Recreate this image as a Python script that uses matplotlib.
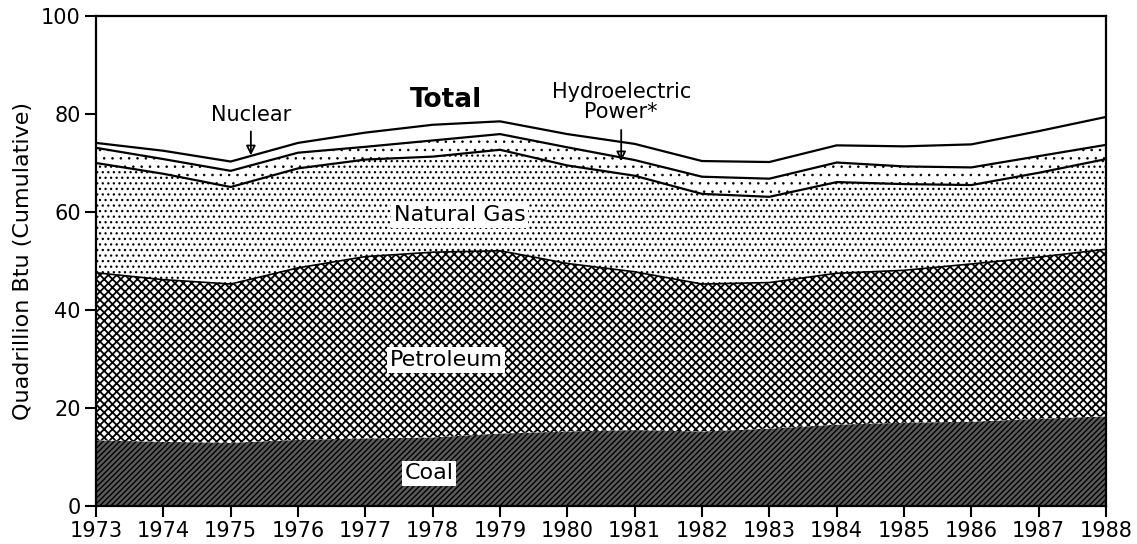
import numpy as np
import matplotlib
matplotlib.use("Agg")
import matplotlib.pyplot as plt

years = list(range(1973, 1989))
coal      = [13.4, 13.1, 12.9, 13.5, 13.8, 14.0, 14.8, 15.2, 15.5, 15.2, 15.8, 16.6, 17.0, 17.2, 17.8, 18.3]
petroleum = [34.2, 33.1, 32.4, 35.1, 37.1, 37.8, 37.3, 34.3, 32.3, 30.1, 29.8, 30.9, 31.1, 32.2, 33.0, 34.1]
nat_gas   = [22.4, 21.6, 19.8, 20.3, 19.8, 19.5, 20.6, 20.0, 19.6, 18.4, 17.5, 18.6, 17.6, 16.1, 17.2, 18.4]
hydro     = [3.1, 3.0, 3.3, 3.2, 2.6, 3.3, 3.2, 3.7, 3.2, 3.5, 3.7, 4.0, 3.6, 3.6, 3.4, 2.9]
nuclear   = [1.0, 1.7, 1.9, 2.0, 2.9, 3.2, 2.6, 2.7, 3.3, 3.2, 3.4, 3.5, 4.1, 4.7, 5.1, 5.7]

y_ticks = [0, 20, 40, 60, 80, 100]
x_ticks = years

plt.rcParams['hatch.color'] = 'black'
plt.rcParams['hatch.linewidth'] = 1.0
plt.rcParams['font.family'] = ['DejaVu Sans']

fig = plt.figure(figsize=(11.37, 5.44), dpi=100)
ax = fig.add_axes([96/1137, 1 - 506/544, (1106-96)/1137, (506-16)/544])

x = np.array(years, dtype=float)
layers = [coal, petroleum, nat_gas, hydro, nuclear]
styles = [
    dict(facecolor='#5a5a5a', hatch='//////', hlw=1.0),
    dict(facecolor='white', hatch='xxxx', hlw=1.3),
    dict(facecolor='white', hatch='...', hlw=0.9),
    dict(facecolor='white', hatch='..', hlw=0.6),
    dict(facecolor='white', hatch=None, hlw=1.0),
]
bottom = np.zeros_like(x)
tops = []
for vals, st in zip(layers, styles):
    top = bottom + np.array(vals)
    coll = ax.fill_between(x, bottom, top, facecolor=st['facecolor'], hatch=st['hatch'],
                           edgecolor='black', linewidth=0, zorder=1)
    if hasattr(coll, 'set_hatch_linewidth'):
        coll.set_hatch_linewidth(st['hlw'])
    tops.append(top)
    bottom = top

ax.plot(x, tops[1], color='black', lw=1.2, zorder=3)
for t in tops[2:]:
    ax.plot(x, t, color='black', lw=1.6, zorder=3)

ax.set_xlim(1973, 1988)
ax.set_ylim(0, 100)
ax.set_xticks(x_ticks)
ax.set_yticks(y_ticks)
ax.tick_params(direction='out', length=8, width=1.5, labelsize=15, pad=3)
for s in ax.spines.values():
    s.set_linewidth(1.6)
ax.set_ylabel('Quadrillion Btu (Cumulative)', fontsize=16, labelpad=6)

box = dict(facecolor='white', edgecolor='none', pad=2)
ax.text(1978.2, 82.9, 'Total', fontsize=19, fontweight='bold', ha='center', va='center')
ax.text(1975.3, 79.8, 'Nuclear', fontsize=15, ha='center', va='center')
ax.annotate('', xy=(1975.3, 71.0), xytext=(1975.3, 77.0),
            arrowprops=dict(arrowstyle='-|>', color='black', lw=1.3, mutation_scale=14, fill=False))
ax.text(1980.8, 82.4, 'Hydroelectric\nPower*', fontsize=15, ha='center', va='center', linespacing=1.0)
ax.annotate('', xy=(1980.8, 69.8), xytext=(1980.8, 77.3),
            arrowprops=dict(arrowstyle='-|>', color='black', lw=1.3, mutation_scale=14, fill=False))
ax.text(1978.4, 59.4, 'Natural Gas', fontsize=16, ha='center', va='center', bbox=box, zorder=4)
ax.text(1978.2, 29.8, 'Petroleum', fontsize=16, ha='center', va='center', bbox=box, zorder=4)
ax.text(1977.95, 6.7, 'Coal', fontsize=16, ha='center', va='center', bbox=box, zorder=4)

fig.savefig('out.png', dpi=100)
